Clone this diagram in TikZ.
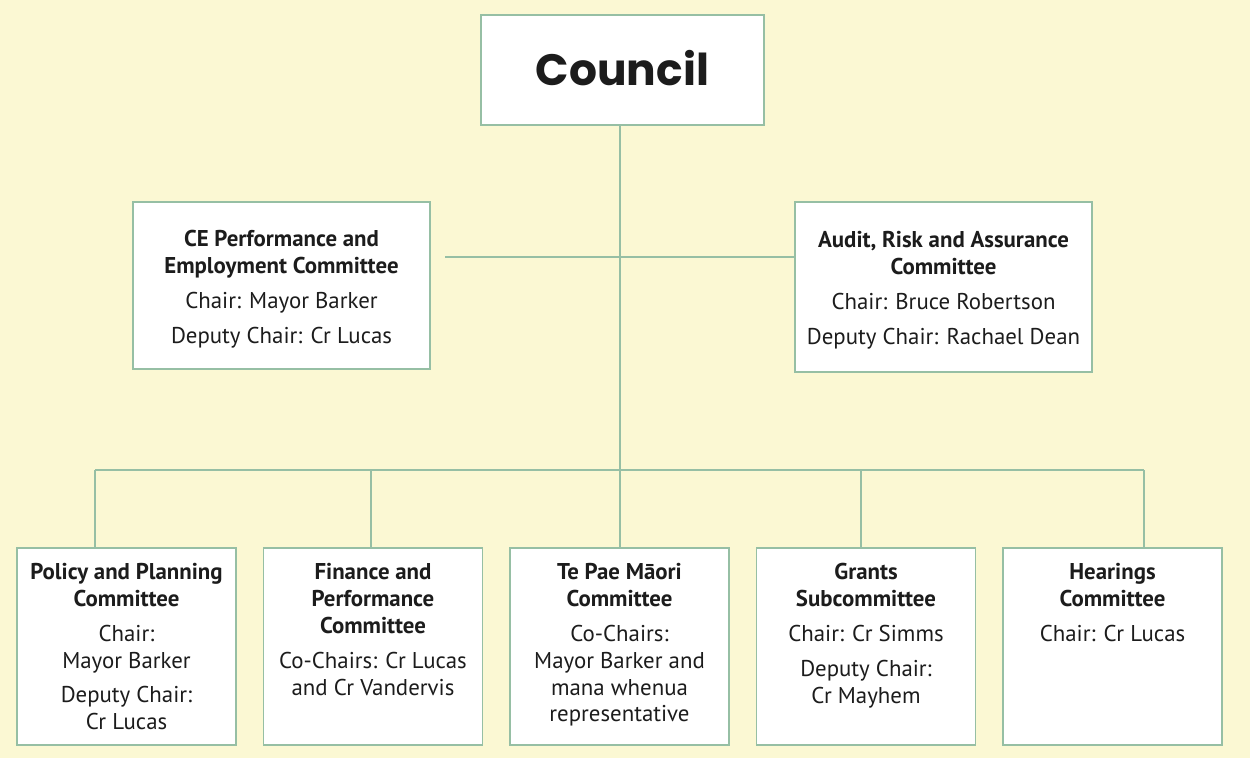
\documentclass[tikz,border=0pt]{standalone}
\usepackage{fontspec}
\setmainfont{PT Sans}
\newfontfamily\councilfont{Poppins}
\definecolor{bg}{HTML}{FBF8D3}
\definecolor{edge}{HTML}{96BFA4}
\definecolor{ink}{HTML}{1C1C1C}
\begin{document}
\begin{tikzpicture}[x=0.02cm,y=-0.02cm,
  box/.style={draw=edge, fill=white, line width=0.85pt, rectangle, inner sep=0pt},
  conn/.style={draw=edge, line width=0.85pt},
  txt/.style={align=center, inner sep=0pt, anchor=north, text=ink,
    font=\fontsize{13}{15.3}\selectfont},
  bot/.style={box, minimum width=4.38cm, minimum height=3.94cm}]
\fill[bg] (0,0) rectangle (1250,758);
\useasboundingbox (0,0) rectangle (1250,758);

% boxes
\node[box, minimum width=5.66cm, minimum height=2.2cm] (council) at (622.5,70) {};
\node[box, minimum width=5.94cm, minimum height=3.34cm] (ce) at (281.5,285.5) {};
\node[box, minimum width=5.94cm, minimum height=3.4cm] (audit) at (943.5,287) {};
\node[bot] (pp) at (126.5,646.5) {};
\node[bot] (fp) at (373,646.5) {};
\node[bot] (tp) at (619.5,646.5) {};
\node[bot] (gs) at (866,646.5) {};
\node[bot] (hc) at (1112.5,646.5) {};

% connectors
\coordinate (spine) at (620,470);
\coordinate (busL) at (95,470);
\coordinate (busR) at (1144,470);
\coordinate (midL) at (445,257);
\coordinate (dG) at (861,470);
\coordinate (dF) at (371,470);
\draw[conn] (council.south -| spine) -- (spine);
\draw[conn] (midL) -- (midL -| audit.west);
\draw[conn] (busL) -- (busR);
\draw[conn] (busL) -- (busL |- pp.north);
\draw[conn] (dF) -- (dF |- fp.north);
\draw[conn] (spine) -- (spine |- tp.north);
\draw[conn] (dG) -- (dG |- gs.north);
\draw[conn] (busR) -- (busR |- hc.north);

% texts
\node[text=ink, font=\councilfont\bfseries\fontsize{25}{28}\selectfont] (tcouncil) at (622.5,68) {Council};
\node[txt] (tce) at (281.5,230) {\bfseries CE Performance and\\ \bfseries Employment Committee\\[4.5pt]
  Chair: Mayor Barker\\[4.5pt] Deputy Chair: Cr Lucas};
\node[txt] (taudit) at (943.5,231) {\bfseries Audit, Risk and Assurance\\ \bfseries Committee\\[4.5pt]
  Chair: Bruce Robertson\\[4.5pt] Deputy Chair: Rachael Dean};
\node[txt] (tpp) at (126.5,563) {\bfseries Policy and Planning\\ \bfseries Committee\\[4.5pt]
  Chair:\\ Mayor Barker\\[4.5pt] Deputy Chair:\\ Cr Lucas};
\node[txt] (tfp) at (373,563) {\bfseries Finance and\\ \bfseries Performance\\ \bfseries Committee\\[4.5pt]
  Co-Chairs: Cr Lucas\\ and Cr Vandervis};
\node[txt] (ttp) at (619.5,563) {\bfseries Te Pae Māori\\ \bfseries Committee\\[4.5pt]
  Co-Chairs:\\ Mayor Barker and\\ mana whenua\\ representative};
\node[txt] (tgs) at (866,563) {\bfseries Grants\\ \bfseries Subcommittee\\[4.5pt]
  Chair: Cr Simms\\[4.5pt] Deputy Chair:\\ Cr Mayhem};
\node[txt] (thc) at (1112.5,563) {\bfseries Hearings\\ \bfseries Committee\\[4.5pt]
  Chair: Cr Lucas};
\end{tikzpicture}
\end{document}
